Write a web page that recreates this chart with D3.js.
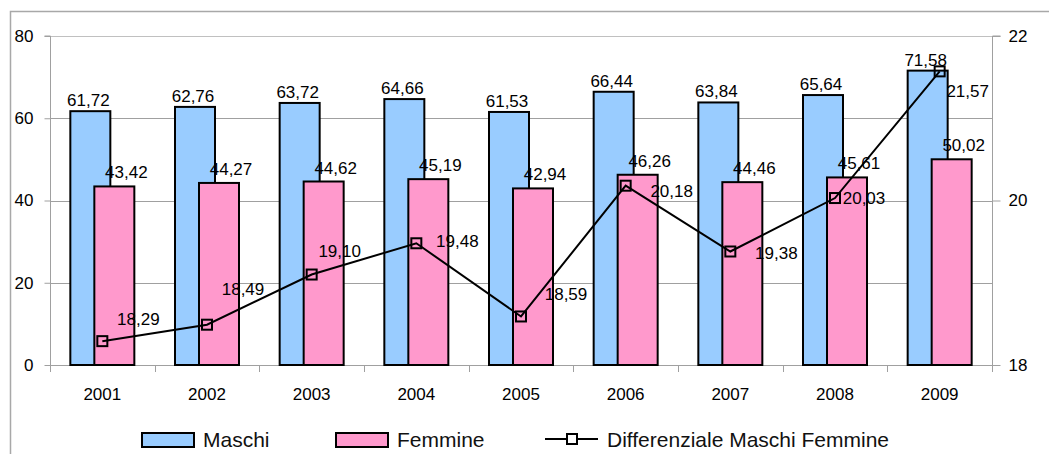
<!DOCTYPE html>
<html><head><meta charset="utf-8">
<script src="https://cdn.jsdelivr.net/npm/d3@7"></script>
<style>
html,body{margin:0;padding:0;background:#fff;}
svg{display:block;font-family:"Liberation Sans",Arial,sans-serif;}
</style></head>
<body><svg id="chart" width="1049" height="454"></svg>
<script>
// ---- data ----
const years = ["2001","2002","2003","2004","2005","2006","2007","2008","2009"];
const maschi = [61.72, 62.76, 63.72, 64.66, 61.53, 66.44, 63.84, 65.64, 71.58];
const femmine = [43.42, 44.27, 44.62, 45.19, 42.94, 46.26, 44.46, 45.61, 50.02];
const differenziale = [18.29, 18.49, 19.10, 19.48, 18.59, 20.18, 19.38, 20.03, 21.57];
const leftTicks = [0, 20, 40, 60, 80];
const rightTicks = [18, 20, 22];
const seriesNames = ["Maschi", "Femmine", "Differenziale Maschi Femmine"];

// ---- label nudges for line data labels (layout only) ----
const lineLabelDx = [36, 36, 28, 41, 45, 46, 46, 29, 28];
const lineLabelDy = [-16, -30, -18, 4, -16, 11, 8, 6, 26];

const fmt = d3.formatLocale({decimal: ",", thousands: ".", grouping: [3], currency: ["", "€"]}).format(".2f");

const svg = d3.select("#chart");
const L = 50, R = 992, T = 36, B = 365;
const gridColor = "#a0a0a0";
const FONT = "'Liberation Sans', Arial, sans-serif";

// outer frame
svg.append("path").attr("d", `M10.5,470 L10.5,11.5 L1060,11.5`)
  .attr("fill", "none").attr("stroke", "#a8a8a8").attr("stroke-width", 1.5);

const x = d3.scaleBand().domain(years).range([L, R]).padding(0);
const yL = d3.scaleLinear().domain([0, 80]).range([B, T]);
const yR = d3.scaleLinear().domain([18, 22]).range([B, T]);

// grid
svg.append("g").selectAll("line").data(leftTicks.filter(d => d > 0)).join("line")
  .attr("x1", L).attr("x2", R)
  .attr("y1", d => Math.round(yL(d)) + 0.5).attr("y2", d => Math.round(yL(d)) + 0.5)
  .attr("stroke", (d) => d === 80 ? "#c0c0c0" : gridColor).attr("stroke-width", 1);

// left axis
const gl = svg.append("g").attr("transform", `translate(${L + 0.5},0)`)
  .call(d3.axisLeft(yL).tickValues(leftTicks).tickSize(6).tickPadding(11).tickFormat(d3.format("d")));
gl.select(".domain").attr("stroke", gridColor).attr("d", `M-6,${T}H0V${B + 3}`);
gl.selectAll(".tick line").attr("stroke", gridColor);
gl.selectAll(".tick text").attr("font-size", 17).attr("fill", "#000").attr("font-family", FONT);

// right axis
const gr = svg.append("g").attr("transform", `translate(${R + 0.5},0)`)
  .call(d3.axisRight(yR).tickValues(rightTicks).tickSize(8).tickPadding(8).tickFormat(d3.format("d")));
gr.select(".domain").attr("stroke", gridColor).attr("d", `M8,${T}H0V${B + 4}`);
gr.selectAll(".tick line").attr("stroke", gridColor);
gr.selectAll(".tick text").attr("font-size", 17).attr("fill", "#000").attr("font-family", FONT);

// bottom axis
const gb = svg.append("g");
gb.append("line").attr("x1", L).attr("x2", R).attr("y1", B + 0.5).attr("y2", B + 0.5).attr("stroke", gridColor);
const bounds = years.map(d => x(d)).concat([x(years[years.length - 1]) + x.bandwidth()]);
gb.selectAll("line.tk").data(bounds).join("line").attr("class", "tk")
  .attr("x1", d => Math.round(d) + 0.5).attr("x2", d => Math.round(d) + 0.5)
  .attr("y1", B).attr("y2", B + 7).attr("stroke", gridColor);
gb.selectAll("text").data(years).join("text")
  .attr("x", d => x(d) + x.bandwidth() / 2).attr("y", 400)
  .attr("text-anchor", "middle").attr("font-size", 17).attr("fill", "#000").text(d => d);

const cx = d => x(d) + x.bandwidth() / 2;
const barW = 40;
const blueOff = -32, pinkOff = -8;

// bars
svg.append("g").selectAll("rect").data(years).join("rect")
  .attr("x", (d) => cx(d) + blueOff).attr("width", barW)
  .attr("y", (d, i) => yL(maschi[i])).attr("height", (d, i) => B - yL(maschi[i]))
  .attr("fill", "#99ccff").attr("stroke", "#000").attr("stroke-width", 2);
svg.append("g").selectAll("rect").data(years).join("rect")
  .attr("x", (d) => cx(d) + pinkOff).attr("width", barW)
  .attr("y", (d, i) => yL(femmine[i])).attr("height", (d, i) => B - yL(femmine[i]))
  .attr("fill", "#ff99cc").attr("stroke", "#000").attr("stroke-width", 2);

// line
const line = d3.line().x((d, i) => cx(years[i])).y(d => yR(d));
svg.append("path").datum(differenziale).attr("d", line)
  .attr("fill", "none").attr("stroke", "#000").attr("stroke-width", 2);
svg.append("g").selectAll("rect").data(differenziale).join("rect")
  .attr("x", (d, i) => cx(years[i]) - 5).attr("y", d => yR(d) - 5)
  .attr("width", 10).attr("height", 10)
  .attr("fill", "none").attr("stroke", "#000").attr("stroke-width", 2);

// data labels
const lbl = svg.append("g").attr("font-size", 17).attr("fill", "#000");
lbl.selectAll("text.m").data(maschi).join("text").attr("class", "m")
  .attr("x", (d, i) => cx(years[i]) + blueOff + barW / 2 - 2).attr("y", d => yL(d) - 5)
  .attr("text-anchor", "middle").text(d => fmt(d));
lbl.selectAll("text.f").data(femmine).join("text").attr("class", "f")
  .attr("x", (d, i) => cx(years[i]) + pinkOff + barW / 2 + 12).attr("y", d => yL(d) - 8)
  .attr("text-anchor", "middle").text(d => fmt(d));
lbl.selectAll("text.l").data(differenziale).join("text").attr("class", "l")
  .attr("x", (d, i) => cx(years[i]) + lineLabelDx[i]).attr("y", (d, i) => yR(d) + lineLabelDy[i])
  .attr("text-anchor", "middle").text(d => fmt(d));

// legend
const lg = svg.append("g").attr("font-size", 21).attr("fill", "#111");
lg.append("rect").attr("x", 142).attr("y", 433).attr("width", 52).attr("height", 14)
  .attr("fill", "#99ccff").attr("stroke", "#000").attr("stroke-width", 2);
lg.append("text").attr("x", 203).attr("y", 447).text(seriesNames[0]);
lg.append("rect").attr("x", 336).attr("y", 433).attr("width", 52).attr("height", 14)
  .attr("fill", "#ff99cc").attr("stroke", "#000").attr("stroke-width", 2);
lg.append("text").attr("x", 397).attr("y", 447).text(seriesNames[1]);
lg.append("line").attr("x1", 545).attr("x2", 598).attr("y1", 439).attr("y2", 439)
  .attr("stroke", "#000").attr("stroke-width", 2);
lg.append("rect").attr("x", 567).attr("y", 434).attr("width", 10).attr("height", 10)
  .attr("fill", "#fff").attr("stroke", "#000").attr("stroke-width", 2);
lg.append("text").attr("x", 607).attr("y", 447).text(seriesNames[2]);
</script>
</body></html>
